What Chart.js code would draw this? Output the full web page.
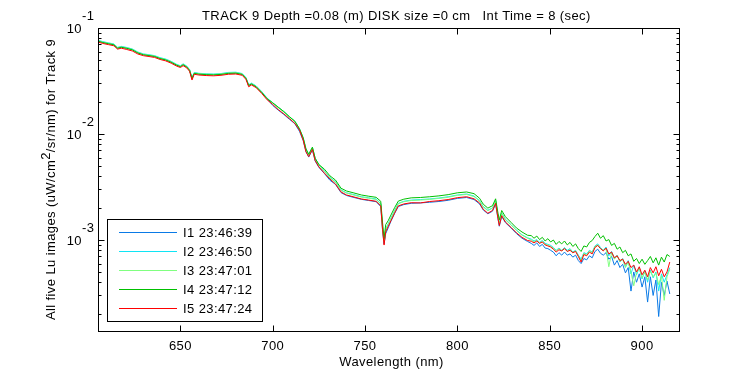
<!DOCTYPE html>
<html>
<head>
<meta charset="utf-8">
<script src="https://cdn.jsdelivr.net/npm/chart.js@4.4.0/dist/chart.umd.min.js"></script>
<style>
  html, body { margin: 0; padding: 0; background: #fff; }
  #wrap { width: 750px; height: 375px; }
</style>
</head>
<body>
<div id="wrap"><canvas id="luChart" width="750" height="375"></canvas></div>
<script>
// Longitudes de onda (nm)
const wavelengths = [
  605.5, 608, 611, 614, 616, 618, 621, 624, 627, 630, 633, 636, 639, 642, 645, 648, 650, 651.5, 653.5, 655,
  656.3, 657.5, 660, 664, 668, 672, 676, 680, 683.5, 685.5, 687, 688.5, 691, 694, 697,
  700, 703, 706, 709, 712, 714.5, 716.5, 718, 719.5, 721.5, 723, 725, 728, 731, 734, 737, 740, 744, 748, 752, 756,
  758.5, 759.5, 760.3, 761.2, 762.5, 764, 766, 768,
  771, 775, 780, 785, 790, 795, 800, 805, 809, 812, 814, 816.5, 819, 820.7, 822, 822.7, 824, 826, 829, 832, 835, 838,
  840, 841.5, 843, 844.5, 846, 847.5, 849, 850.5, 852, 853.5, 855, 856.5, 858, 859.5, 861, 862.5, 864, 865.5, 867, 868.5,
  870, 871.5, 873, 874.5, 876, 877.5, 879, 880.5, 882, 883.5, 885, 886.5, 888, 889.5, 891, 892.5, 894, 895.5, 897, 898.5,
  900, 901.5, 903, 904.5, 906, 907.5, 909, 910.5, 912, 913.5, 915
];

// I1 23:46:39
const lu1 = [
  0.0754, 0.0733, 0.0714, 0.0697, 0.0648, 0.0661, 0.0646, 0.0625, 0.0584, 0.0562, 0.0551, 0.0541, 0.0518, 0.0502, 0.0478, 0.0448, 0.0435, 0.0452, 0.0431, 0.0400,
  0.0331, 0.0375, 0.0369, 0.0365, 0.0363, 0.0367, 0.0375, 0.0377, 0.0367, 0.0336, 0.0286, 0.0297, 0.0281, 0.0248, 0.0215,
  0.0186, 0.0168, 0.0153, 0.0138, 0.0125, 0.0106, 0.00869, 0.00683, 0.00606, 0.00708, 0.00556, 0.00485, 0.00424, 0.00366, 0.00335, 0.00280, 0.00263, 0.00252, 0.00242, 0.00236, 0.00230,
  0.00207, 0.00122, 0.00092, 0.00115, 0.00130, 0.00150, 0.00178, 0.00207,
  0.00216, 0.00222, 0.00224, 0.00227, 0.00231, 0.00237, 0.00247, 0.00252, 0.00241, 0.00219, 0.00192, 0.00177, 0.00187, 0.00219, 0.00158, 0.00135, 0.00167, 0.00146, 0.00130, 0.00115, 0.00104, 0.00097,
  0.00093, 0.00089, 0.00094, 0.00087, 0.00091, 0.00084, 0.00083, 0.00080, 0.00077, 0.00071, 0.00076, 0.00072, 0.00077, 0.00072, 0.00074, 0.00069, 0.00072, 0.00064, 0.00060, 0.00067,
  0.00065, 0.00071, 0.00068, 0.00078, 0.00082, 0.00075, 0.00072, 0.00076, 0.00066, 0.00070, 0.00058, 0.00064, 0.00055, 0.00059, 0.00049, 0.00055, 0.00033, 0.00050, 0.00040, 0.00048,
  0.00036, 0.00045, 0.00026, 0.00045, 0.00030, 0.00042, 0.00019, 0.00040, 0.00030, 0.00041, 0.00031
];

// I2 23:46:50
const lu2 = [
  0.0765, 0.0744, 0.0725, 0.0707, 0.0657, 0.0671, 0.0655, 0.0634, 0.0593, 0.0570, 0.0560, 0.0549, 0.0525, 0.0510, 0.0485, 0.0454, 0.0441, 0.0459, 0.0437, 0.0406,
  0.0340, 0.0381, 0.0374, 0.0370, 0.0368, 0.0372, 0.0381, 0.0383, 0.0372, 0.0341, 0.0292, 0.0302, 0.0285, 0.0252, 0.0218,
  0.0197, 0.0179, 0.0163, 0.0146, 0.0132, 0.0112, 0.00920, 0.00722, 0.00642, 0.00748, 0.00590, 0.00514, 0.00450, 0.00389, 0.00355, 0.00297, 0.00279, 0.00268, 0.00256, 0.00250, 0.00244,
  0.00221, 0.00132, 0.00095, 0.00128, 0.00142, 0.00161, 0.00190, 0.00222,
  0.00232, 0.00238, 0.00241, 0.00244, 0.00249, 0.00256, 0.00266, 0.00272, 0.00260, 0.00235, 0.00207, 0.00191, 0.00201, 0.00235, 0.00170, 0.00145, 0.00180, 0.00157, 0.00140, 0.00124, 0.00112, 0.00105,
  0.00102, 0.00098, 0.00101, 0.00095, 0.00099, 0.00093, 0.00091, 0.00089, 0.00085, 0.00080, 0.00084, 0.00080, 0.00085, 0.00080, 0.00083, 0.00077, 0.00080, 0.00072, 0.00066, 0.00076,
  0.00074, 0.00080, 0.00077, 0.00088, 0.00092, 0.00085, 0.00080, 0.00086, 0.00071, 0.00078, 0.00067, 0.00072, 0.00062, 0.00067, 0.00056, 0.00064, 0.00048, 0.00058, 0.00047, 0.00055,
  0.00043, 0.00051, 0.00040, 0.00052, 0.00044, 0.00050, 0.00033, 0.00048, 0.00040, 0.00047, 0.00055
];

// I3 23:47:01
const lu3 = [
  0.0758, 0.0736, 0.0718, 0.0700, 0.0651, 0.0664, 0.0649, 0.0628, 0.0587, 0.0564, 0.0554, 0.0544, 0.0520, 0.0505, 0.0480, 0.0450, 0.0437, 0.0454, 0.0433, 0.0402,
  0.0333, 0.0377, 0.0371, 0.0367, 0.0365, 0.0369, 0.0377, 0.0379, 0.0369, 0.0338, 0.0287, 0.0299, 0.0282, 0.0249, 0.0216,
  0.0196, 0.0177, 0.0161, 0.0145, 0.0131, 0.0111, 0.00913, 0.00718, 0.00636, 0.00744, 0.00584, 0.00510, 0.00445, 0.00385, 0.00352, 0.00294, 0.00277, 0.00265, 0.00254, 0.00248, 0.00241,
  0.00218, 0.00130, 0.00098, 0.00126, 0.00140, 0.00159, 0.00188, 0.00220,
  0.00230, 0.00236, 0.00238, 0.00242, 0.00247, 0.00253, 0.00264, 0.00269, 0.00257, 0.00233, 0.00205, 0.00189, 0.00200, 0.00233, 0.00168, 0.00144, 0.00179, 0.00155, 0.00139, 0.00123, 0.00111, 0.00104,
  0.00100, 0.00096, 0.00099, 0.00094, 0.00097, 0.00091, 0.00090, 0.00087, 0.00084, 0.00079, 0.00083, 0.00079, 0.00084, 0.00078, 0.00082, 0.00076, 0.00079, 0.00071, 0.00064, 0.00075,
  0.00072, 0.00079, 0.00076, 0.00087, 0.00090, 0.00083, 0.00080, 0.00083, 0.00056, 0.00076, 0.00066, 0.00071, 0.00063, 0.00066, 0.00055, 0.00062, 0.00050, 0.00037, 0.00049, 0.00054,
  0.00044, 0.00050, 0.00042, 0.00051, 0.00045, 0.00049, 0.00038, 0.00046, 0.00027, 0.00045, 0.00053
];

// I4 23:47:12
const lu4 = [
  0.0751, 0.0729, 0.0711, 0.0694, 0.0645, 0.0658, 0.0643, 0.0622, 0.0581, 0.0559, 0.0549, 0.0539, 0.0515, 0.0500, 0.0475, 0.0446, 0.0432, 0.0450, 0.0428, 0.0398,
  0.0336, 0.0373, 0.0367, 0.0363, 0.0361, 0.0365, 0.0373, 0.0375, 0.0365, 0.0335, 0.0287, 0.0296, 0.0279, 0.0247, 0.0215,
  0.0197, 0.0179, 0.0163, 0.0146, 0.0132, 0.0112, 0.00922, 0.00725, 0.00643, 0.00751, 0.00590, 0.00515, 0.00466, 0.00403, 0.00368, 0.00308, 0.00290, 0.00278, 0.00266, 0.00259, 0.00253,
  0.00232, 0.00145, 0.00103, 0.00140, 0.00152, 0.00172, 0.00202, 0.00233,
  0.00243, 0.00250, 0.00252, 0.00256, 0.00261, 0.00268, 0.00279, 0.00284, 0.00274, 0.00248, 0.00218, 0.00200, 0.00211, 0.00245, 0.00179, 0.00155, 0.00190, 0.00166, 0.00147, 0.00130, 0.00119, 0.00111,
  0.00110, 0.00104, 0.00109, 0.00101, 0.00106, 0.00098, 0.00103, 0.00096, 0.00100, 0.00091, 0.00097, 0.00092, 0.00098, 0.00090, 0.00095, 0.00087, 0.00092, 0.00083, 0.00078, 0.00088,
  0.00086, 0.00095, 0.00099, 0.00108, 0.00116, 0.00104, 0.00110, 0.00098, 0.00101, 0.00089, 0.00093, 0.00082, 0.00086, 0.00076, 0.00080, 0.00071, 0.00074, 0.00063, 0.00067, 0.00060,
  0.00066, 0.00059, 0.00064, 0.00070, 0.00061, 0.00068, 0.00058, 0.00069, 0.00062, 0.00073, 0.00070
];

// I5 23:47:24
const lu5 = [
  0.0736, 0.0715, 0.0697, 0.0680, 0.0632, 0.0645, 0.0627, 0.0607, 0.0568, 0.0548, 0.0538, 0.0528, 0.0505, 0.0490, 0.0466, 0.0437, 0.0424, 0.0441, 0.0420, 0.0390,
  0.0323, 0.0366, 0.0360, 0.0356, 0.0354, 0.0358, 0.0366, 0.0368, 0.0358, 0.0328, 0.0279, 0.0290, 0.0274, 0.0242, 0.0210,
  0.0190, 0.0170, 0.0155, 0.0140, 0.0126, 0.0109, 0.00878, 0.00680, 0.00612, 0.00715, 0.00562, 0.00490, 0.00428, 0.00376, 0.00338, 0.00284, 0.00266, 0.00255, 0.00244, 0.00238, 0.00232,
  0.00210, 0.00125, 0.000897, 0.00120, 0.00134, 0.00152, 0.00180, 0.00210,
  0.00219, 0.00225, 0.00224, 0.00231, 0.00235, 0.00241, 0.00251, 0.00256, 0.00245, 0.00224, 0.00195, 0.00179, 0.00190, 0.00222, 0.00160, 0.00137, 0.00170, 0.00148, 0.00132, 0.00117, 0.00106, 0.00099,
  0.000975, 0.00094, 0.00098, 0.00093, 0.00096, 0.00090, 0.00088, 0.00086, 0.00082, 0.00077, 0.00081, 0.00079, 0.00083, 0.00078, 0.00080, 0.00076, 0.00078, 0.00070, 0.00062, 0.00073,
  0.00071, 0.00077, 0.00074, 0.00085, 0.00089, 0.00083, 0.00079, 0.00084, 0.00074, 0.00077, 0.00068, 0.00071, 0.00064, 0.00066, 0.00059, 0.00063, 0.00055, 0.00058, 0.00050, 0.00056,
  0.00047, 0.00052, 0.00045, 0.00055, 0.00049, 0.00056, 0.00046, 0.00053, 0.00045, 0.00050, 0.00062
];

const seriesLabels = ['I1 23:46:39', 'I2 23:46:50', 'I3 23:47:01', 'I4 23:47:12', 'I5 23:47:24'];
const seriesValues = [lu1, lu2, lu3, lu4, lu5];
const seriesColors = ['#0a7ae6', '#10e4f4', '#80ff80', '#00c000', '#ff0000'];

const xTicks = [650, 700, 750, 800, 850, 900];
const yDecades = [-1, -2, -3];

const chartTitle = 'TRACK 9 Depth =0.08 (m) DISK size =0 cm   Int Time = 8 (sec)';
const xTitle = 'Wavelength (nm)';
const yTitleParts = ['All five Lu images (uW/cm', '2', '/sr/nm) for Track 9'];

const FONT = '13px "Liberation Sans", Arial, Helvetica, sans-serif';

// Dibuja marco, marcas, etiquetas del eje y, títulos y leyenda al estilo MATLAB
const matlabFrame = {
  id: 'matlabFrame',
  beforeDraw(chart) {
    chart.ctx.letterSpacing = '0.4px';
  },
  afterDraw(chart) {
    const { ctx, chartArea: a, scales: { x, y } } = chart;
    ctx.save();
    ctx.letterSpacing = '0.4px';
    ctx.strokeStyle = '#000';
    ctx.fillStyle = '#000';
    ctx.lineWidth = 1;

    const L = Math.round(a.left) + 0.5, R = Math.round(a.right) + 0.5;
    const T = Math.round(a.top) + 0.5, B = Math.round(a.bottom) + 0.5;
    ctx.strokeRect(L, T, R - L, B - T);

    ctx.beginPath();
    xTicks.forEach(v => {
      const px = Math.round(x.getPixelForValue(v)) + 0.5;
      ctx.moveTo(px, B); ctx.lineTo(px, B - 6);
      ctx.moveTo(px, T); ctx.lineTo(px, T + 6);
    });
    for (let e = -4; e <= -1; e++) {
      for (let m = 1; m <= 9; m++) {
        const v = m * Math.pow(10, e);
        if (v < y.min || v > y.max * 1.0001) continue;
        const py = Math.round(y.getPixelForValue(v)) + 0.5;
        const len = m === 1 ? 6 : 3;
        ctx.moveTo(L, py); ctx.lineTo(L + len, py);
        ctx.moveTo(R, py); ctx.lineTo(R - len, py);
      }
    }
    ctx.stroke();

    ctx.font = FONT;
    ctx.textBaseline = 'alphabetic';
    yDecades.forEach(e => {
      const py = y.getPixelForValue(Math.pow(10, e));
      ctx.textAlign = 'right';
      ctx.fillText('10', 82, py + 4.5);
      ctx.textAlign = 'left';
      ctx.fillText(String(e), 82, py - 8);
    });

    // título
    ctx.textAlign = 'left';
    ctx.fillText(chartTitle, 202, 19.5);

    // título eje x
    ctx.textAlign = 'center';
    ctx.fillText(xTitle, (a.left + a.right) / 2 + 3, 366);

    // título eje y con superíndice
    ctx.save();
    ctx.translate(55, (a.top + a.bottom) / 2);
    ctx.rotate(-Math.PI / 2);
    ctx.textAlign = 'left';
    const widths = yTitleParts.map(t => ctx.measureText(t).width);
    let cx = -widths.reduce((s, w) => s + w, 0) / 2;
    yTitleParts.forEach((t, i) => {
      ctx.fillText(t, cx, i === 1 ? -5 : 0);
      cx += widths[i];
    });
    ctx.restore();

    // leyenda
    ctx.fillStyle = '#fff';
    ctx.fillRect(108, 219, 155, 103);
    ctx.strokeStyle = '#000';
    ctx.strokeRect(107.5, 219.5, 155, 102);
    seriesLabels.forEach((lab, i) => {
      const ry = 232 + i * 19;
      ctx.strokeStyle = seriesColors[i];
      ctx.beginPath();
      ctx.moveTo(119, ry + 0.5); ctx.lineTo(177, ry + 0.5);
      ctx.stroke();
      ctx.fillStyle = '#000';
      ctx.textAlign = 'left';
      ctx.fillText(lab, 183, ry + 4.7);
    });
    ctx.restore();
  }
};

const ctx = document.getElementById('luChart').getContext('2d');

// El último registro (I5) se dibuja encima, como en la figura original
const datasets = seriesValues.map((vals, i) => ({
  label: seriesLabels[i],
  data: wavelengths.map((w, k) => ({ x: w, y: vals[k] })),
  borderColor: seriesColors[i],
  backgroundColor: seriesColors[i],
  borderWidth: 1,
  pointRadius: 0,
  tension: 0,
  fill: false,
  order: seriesValues.length - 1 - i
}));

const luChart = new Chart(ctx, {
  type: 'line',
  data: { datasets: datasets },
  plugins: [matlabFrame],
  options: {
    responsive: false,
    animation: false,
    devicePixelRatio: 1,
    events: [],
    layout: { padding: { top: 28, right: 71, left: 0, bottom: 0 } },
    plugins: {
      legend: { display: false },
      tooltip: { enabled: false },
      title: { display: false }
    },
    scales: {
      x: {
        type: 'linear',
        min: 605.4,
        max: 920,
        grid: { display: false, drawTicks: false },
        border: { display: false },
        ticks: {
          stepSize: 50,
          includeBounds: false,
          padding: 8,
          color: '#000',
          maxRotation: 0,
          font: { family: '"Liberation Sans", Arial, sans-serif', size: 13 }
        },
        afterFit(scale) { scale.height = 44; }
      },
      y: {
        type: 'logarithmic',
        min: 1.387e-4,
        max: 0.1,
        grid: { display: false, drawTicks: false },
        border: { display: false },
        ticks: { display: false },
        afterFit(scale) { scale.width = 98; }
      }
    }
  }
});
</script>
</body>
</html>
